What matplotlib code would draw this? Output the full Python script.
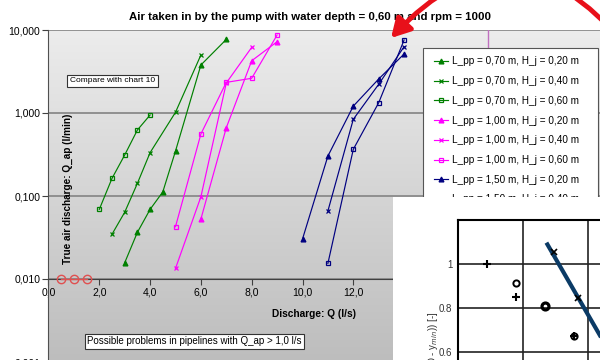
import numpy as np
import matplotlib
matplotlib.use('Agg')
import matplotlib.pyplot as plt
from matplotlib.patches import Rectangle, FancyArrowPatch
from matplotlib.colors import LinearSegmentedColormap

plt.rcParams['font.family'] = ['Liberation Sans', 'DejaVu Sans']

# Data: true air discharge (l/min) against discharge Q (l/s)
x_070_020 = [3.0, 3.5, 4.0, 4.5, 5.0, 6.0, 7.0]
y_070_020 = [0.0157, 0.0365, 0.069, 0.112, 0.348, 3.79, 7.7]
x_070_040 = [2.5, 3.0, 3.5, 4.0, 5.0, 6.0]
y_070_040 = [0.0346, 0.0637, 0.142, 0.333, 1.02, 5.0]
x_070_060 = [2.0, 2.5, 3.0, 3.5, 4.0]
y_070_060 = [0.069, 0.163, 0.312, 0.624, 0.946]
x_100_020 = [6.0, 7.0, 8.0, 9.0]
y_100_020 = [0.0528, 0.665, 4.26, 7.23]
x_100_040 = [5.0, 6.0, 7.0, 8.0]
y_100_040 = [0.0134, 0.098, 2.3, 6.18]
x_100_060 = [5.0, 6.0, 7.0, 8.0, 9.0]
y_100_060 = [0.0427, 0.559, 2.34, 2.62, 8.7]
x_150_020 = [10.0, 11.0, 12.0, 13.0, 14.0]
y_150_020 = [0.0303, 0.303, 1.21, 2.57, 5.14]
x_150_040 = [11.0, 12.0, 13.0, 14.0]
y_150_040 = [0.066, 0.84, 2.22, 6.3]
x_150_060 = [11.0, 12.0, 13.0, 14.0]
y_150_060 = [0.0154, 0.365, 1.33, 7.58]
red_x = [0.5, 1.0, 1.5]
red_y = [0.01, 0.01, 0.01]
stray_x = [17.3, 17.3]
stray_y = [10.0, 3.0]

labels = ['L_pp = 0,70 m, H_j = 0,20 m', 'L_pp = 0,70 m, H_j = 0,40 m',
          'L_pp = 0,70 m, H_j = 0,60 m', 'L_pp = 1,00 m, H_j = 0,20 m',
          'L_pp = 1,00 m, H_j = 0,40 m', 'L_pp = 1,00 m, H_j = 0,60 m',
          'L_pp = 1,50 m, H_j = 0,20 m', 'L_pp = 1,50 m, H_j = 0,40 m',
          'L_pp = 1,50 m, H_j = 0,60 m']
xticks = [0, 2, 4, 6, 8, 10, 12, 14, 16, 18, 20]
yticks = [0.001, 0.01, 0.1, 1, 10]
ytick_labels = ['0,001', '0,010', '0,100', '1,000', '10,000']

# inset (second, overlapping chart)
plus_x = [0.45, 0.89, 1.79]
plus_y = [1.0, 0.849, 0.674]
circ_x = [0.89, 1.79]
circ_y = [0.914, 0.674]
bold_x = [1.34]
bold_y = [0.81]
cross_x = [1.47, 1.85]
cross_y = [1.056, 0.844]
fit_x = [1.36, 2.3]
fit_y = [1.097, 0.616]

fig = plt.figure(figsize=(6, 3.6), dpi=100)
W, H = 600.0, 360.0

ax = fig.add_axes([48.5 / W, -2 / H, 558.8 / W, 332 / H])
ax.set_zorder(0)
grad = np.linspace(0, 1, 256).reshape(-1, 1)
cmap = LinearSegmentedColormap.from_list('bg', ['#bdbdbd', '#ececec'])
ax.imshow(grad, cmap=cmap, extent=[0, 1, 0, 1], origin='lower',
          transform=ax.transAxes, aspect='auto', zorder=0)

green, mag, navy = '#008000', '#ff00ff', '#000080'
series = [
    (x_070_020, y_070_020, green, '^', 3.5, green),
    (x_070_040, y_070_040, green, 'x', 2.8, green),
    (x_070_060, y_070_060, green, 's', 3, 'none'),
    (x_100_020, y_100_020, mag, '^', 3.5, mag),
    (x_100_040, y_100_040, mag, 'x', 2.8, mag),
    (x_100_060, y_100_060, mag, 's', 3, 'none'),
    (x_150_020, y_150_020, navy, '^', 3.5, navy),
    (x_150_040, y_150_040, navy, 'x', 2.8, navy),
    (x_150_060, y_150_060, navy, 's', 3, 'none'),
]
handles = []
for (xs, ys, c, m, ms, mfc), lab in zip(series, labels):
    h, = ax.plot(xs, ys, color=c, lw=0.85, marker=m, ms=ms, mfc=mfc,
                 mec=c, mew=0.9, label=lab, zorder=3)
    handles.append(h)
ax.plot(red_x, red_y, color='#e05050', lw=1, marker='o', ms=6,
        mfc='none', mec='#e05050', mew=1, zorder=4, clip_on=False)
ax.plot(stray_x, stray_y, color='#c070c0', lw=1, zorder=2)

ax.set_yscale('log')
ax.set_xlim(0, 22)
ax.set_ylim(0.001, 10)
ax.set_yticks(yticks)
ax.set_yticklabels(ytick_labels)
ax.yaxis.set_minor_locator(plt.NullLocator())
ax.set_xticks(xticks)
ax.set_xticklabels([f'{v:.1f}'.replace('.', ',') for v in xticks])
ax.yaxis.grid(True, color='#8a8a8a', lw=1.3)
ax.set_axisbelow(True)
ax.spines['bottom'].set_position(('data', 0.01))
ax.spines['bottom'].set_color('#404040')
ax.spines['left'].set_color('#505050')
ax.spines['top'].set_visible(False)
ax.spines['right'].set_visible(False)
ax.tick_params(labelsize=7.5, length=4, color='#404040', pad=2)

fig.text(310 / W, 1 - 17 / H,
         'Air taken in by the pump with water depth = 0,60 m and rpm = 1000',
         ha='center', va='center', fontsize=8.2, fontweight='bold')
fig.text(314 / W, 1 - 314 / H, 'Discharge: Q (l/s)', ha='center',
         va='center', fontsize=7.3, fontweight='bold')
fig.text(68 / W, 1 - 189 / H, 'True air discharge: Q_ap (l/min)',
         ha='center', va='center', rotation=90, fontsize=7.2,
         fontweight='bold')
fig.text(112.5 / W, 1 - 81 / H, 'Compare with chart 10', ha='center',
         va='center', fontsize=6,
         bbox=dict(boxstyle='square,pad=0.3', fc='white', ec='#333333', lw=0.8))
fig.text(194.5 / W, 1 - 341.5 / H,
         'Possible problems in pipelines with Q_ap > 1,0 l/s', ha='center',
         va='center', fontsize=7,
         bbox=dict(boxstyle='square,pad=0.25', fc='white', ec='#333333', lw=0.8))

# legend box
fig.add_artist(Rectangle((423 / W, 1 - 240 / H), 175 / W, 192 / H,
                         transform=fig.transFigure, fc='white', ec='#555555',
                         lw=0.8, zorder=10))
leg = fig.legend(handles=handles, loc='upper left',
                 bbox_to_anchor=(424 / W, 1 - 47 / H), frameon=False,
                 fontsize=7.2, handlelength=1.4, labelspacing=0.97,
                 borderpad=0.45, handletextpad=0.5)
leg.set_zorder(11)

# overlapping second chart
fig.add_artist(Rectangle((393 / W, -0.05), 210 / W, (360 - 197) / H + 0.05,
                         transform=fig.transFigure, fc='white', ec='none',
                         zorder=20))
ax2 = fig.add_axes([458 / W, -14 / H, 149.5 / W, 154 / H])
ax2.set_zorder(21)
ax2.plot(fit_x, fit_y, color='#0b3b66', lw=3, solid_capstyle='butt')
ax2.plot(plus_x, plus_y, ls='none', marker='+', ms=6, mew=1.5, color='black')
ax2.plot(circ_x, circ_y, ls='none', marker='o', ms=4.5, mew=1.4,
         mfc='none', mec='black')
ax2.plot(bold_x, bold_y, ls='none', marker='o', ms=5, mew=2.3,
         mfc='none', mec='black')
ax2.plot(cross_x, cross_y, ls='none', marker='x', ms=4, mew=1.2, color='black')
ax2.set_xlim(0, 2.3)
ax2.set_ylim(0.5, 1.2)
ax2.set_xticks([0, 1, 2])
ax2.set_xticklabels([])
ax2.set_yticks([0.6, 0.8, 1.0])
ax2.set_yticklabels(['0.6', '0.8', '1'])
ax2.grid(True, color='#222222', lw=1.2)
ax2.set_axisbelow(True)
for s in ax2.spines.values():
    s.set_linewidth(1.5)
ax2.tick_params(length=0, labelsize=7, labelcolor='#333333', pad=4)
fig.text(433 / W, 1 - 312 / H, '(D - y$_{min}$)) [-]', rotation=90,
         ha='center', va='top', fontsize=7, color='#333333', zorder=22)

# red arrow
arrow = FancyArrowPatch((625 / W, 1 - 45 / H), (391 / W, 1 - 38 / H),
                        transform=fig.transFigure,
                        connectionstyle='arc3,rad=0.57',
                        arrowstyle='-|>,head_length=0.8,head_width=0.45',
                        mutation_scale=14, color='#e8101a', lw=3.5,
                        shrinkA=0, shrinkB=0, zorder=30)
fig.add_artist(arrow)

fig.savefig('out.png', dpi=100)
